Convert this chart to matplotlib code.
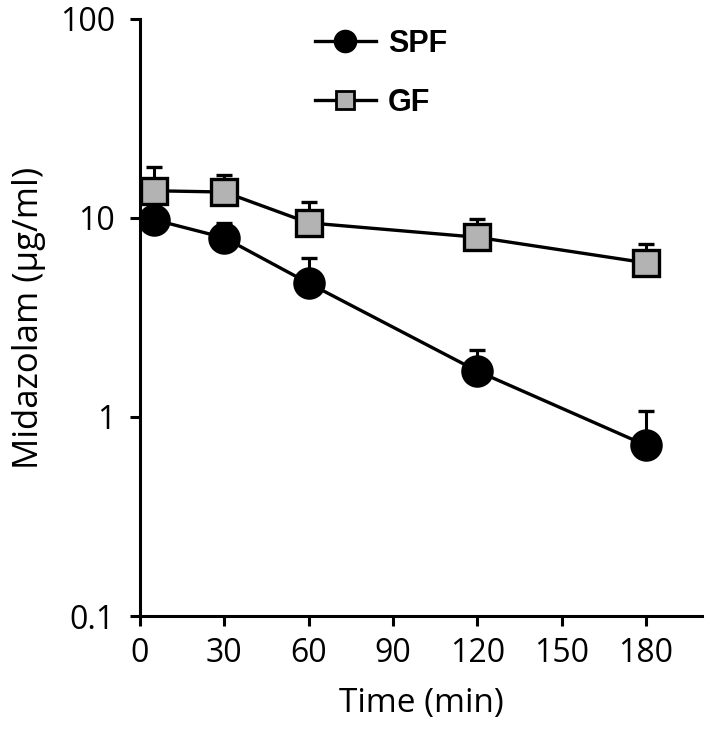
import numpy as np
import matplotlib
matplotlib.use("Agg")
from matplotlib import pyplot as plt
from matplotlib.lines import Line2D

# Data
time = [5, 30, 60, 120, 180]
spf_mean = [9.8, 7.95, 4.7, 1.70, 0.72]
spf_upper = [11.0, 9.4, 6.3, 2.17, 1.07]
gf_mean = [13.7, 13.5, 9.45, 8.0, 5.95]
gf_upper = [18.0, 16.4, 12.0, 9.9, 7.4]

xticks = [0, 30, 60, 90, 120, 150, 180]
yticks = [0.1, 1, 10, 100]
ytick_labels = ["0.1", "1", "10", "100"]

plt.rcParams['font.family'] = ['Open Sans', 'DejaVu Sans']

fig = plt.figure(figsize=(7.09, 7.29), dpi=100)
ax = fig.add_axes([0.1975, 0.155, 0.793, 0.819])

gray = '#b3b3b3'
lw = 2.4


def draw(mean, upper, marker, face, ms):
    mean = np.array(mean)
    err = np.array(upper) - mean
    ax.errorbar(time, mean, yerr=[np.zeros_like(err), err], fmt='none',
                ecolor='black', elinewidth=2.2, capsize=6, capthick=2.4,
                zorder=2)
    ax.plot(time, mean, color='black', lw=lw, marker=marker, ms=ms,
            mfc=face, mec='black', mew=2.4, zorder=3)


draw(gf_mean, gf_upper, 's', gray, 19)
draw(spf_mean, spf_upper, 'o', 'black', 21)

ax.set_yscale('log')
ax.set_ylim(0.1, 100)
ax.set_xlim(0, 200)
ax.set_xticks(xticks)
ax.set_yticks(yticks)
ax.set_yticklabels(ytick_labels)
ax.yaxis.set_minor_locator(matplotlib.ticker.NullLocator())

for side in ['top', 'right']:
    ax.spines[side].set_visible(False)
for side in ['left', 'bottom']:
    ax.spines[side].set_linewidth(2.2)
ax.tick_params(axis='both', which='major', width=2.2, length=7,
               labelsize=23)
ax.tick_params(axis='x', pad=8)
ax.tick_params(axis='y', pad=11)

ax.set_xlabel('Time (min)', fontsize=24, labelpad=12)
ax.set_ylabel('Midazolam (\u03bcg/ml)', fontsize=25, labelpad=10)

handles = [
    Line2D([], [], color='black', lw=lw, marker='o', ms=15, mfc='black',
           mec='black', mew=2),
    Line2D([], [], color='black', lw=lw, marker='s', ms=13, mfc=gray,
           mec='black', mew=2),
]
ax.legend(handles, ['SPF', 'GF'], loc='upper left',
          bbox_to_anchor=(0.262, 1.03), frameon=False, handlelength=2.0,
          handletextpad=0.4, labelspacing=0.95,
          prop={'family': 'Liberation Sans', 'weight': 'bold', 'size': 22})

fig.savefig('out.png', dpi=100)
